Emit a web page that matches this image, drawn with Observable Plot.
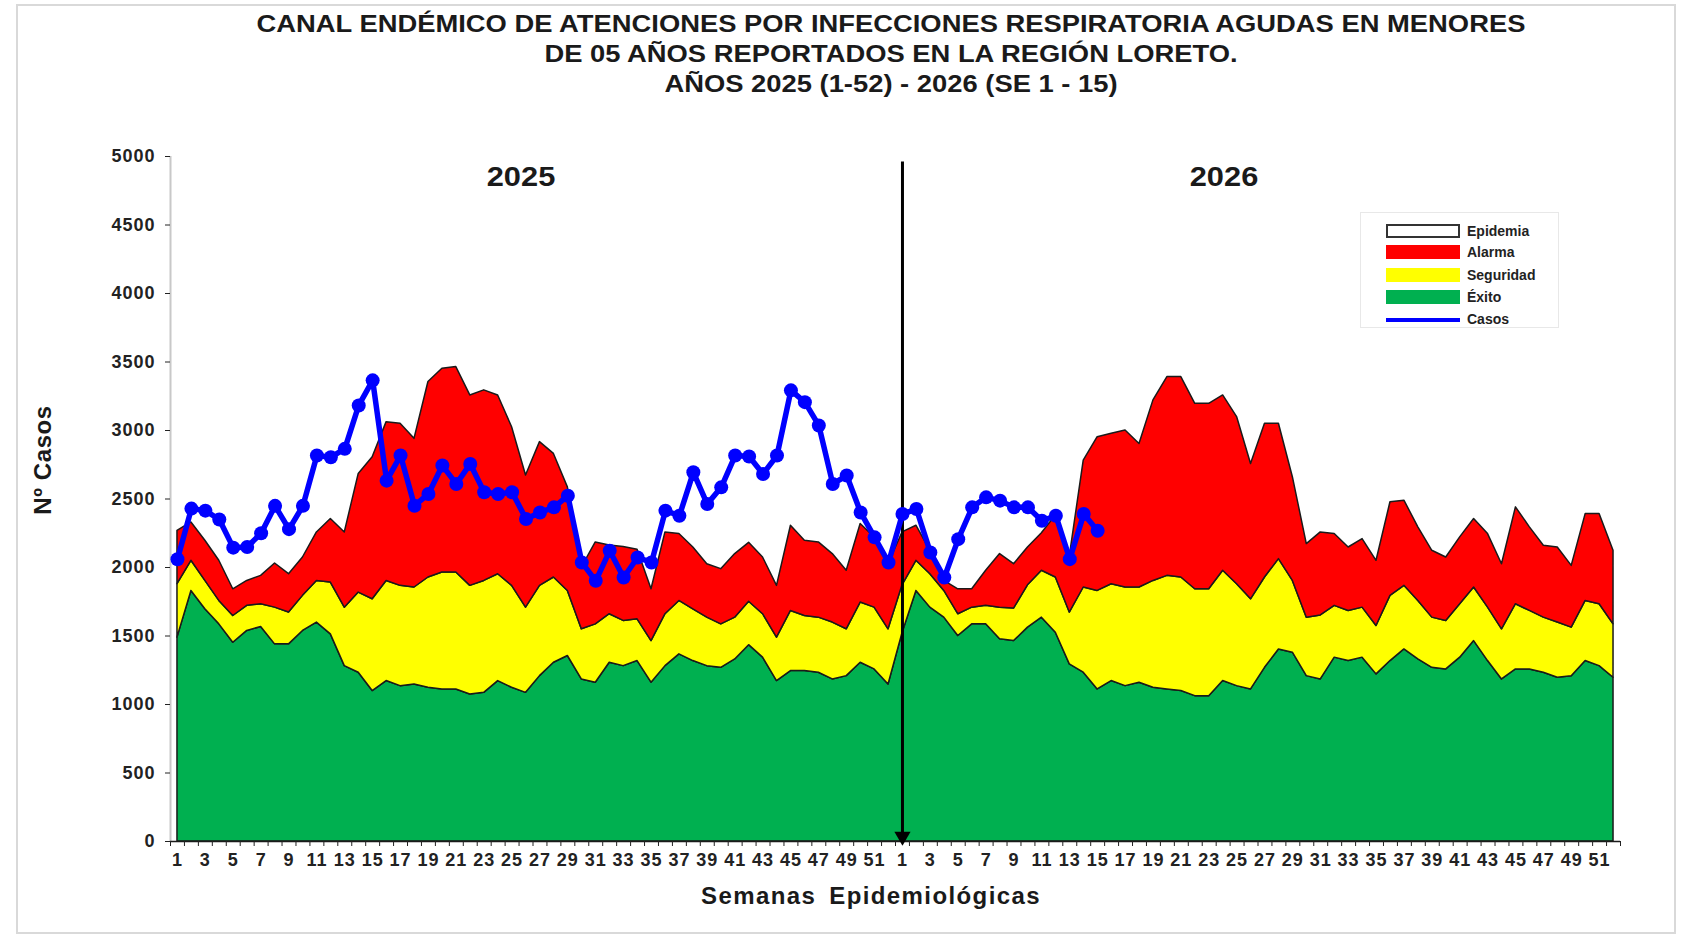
<!DOCTYPE html>
<html>
<head>
<meta charset="utf-8">
<script src="https://cdn.jsdelivr.net/npm/d3@7"></script>
<script src="https://cdn.jsdelivr.net/npm/@observablehq/plot@0.6"></script>
<style>
  body { margin: 0; background: #fff; font-family: "Liberation Sans", Arial, sans-serif; }
  #wrap { position: relative; width: 1686px; height: 937px; overflow: hidden; background: #fff; }
  #frame { position: absolute; left: 16px; top: 4px; width: 1660px; height: 930px; border: 2px solid #d9d9d9; box-sizing: border-box; }
  #chart { position: absolute; left: 0; top: 0; }
  .t { position: absolute; font-weight: bold; color: #1a1a1a; white-space: nowrap; transform: translate(-50%, -50%); }
  .title { font-size: 24px; transform: translate(-50%, -50%) scaleX(1.14); }
  .year { font-size: 28px; transform: translate(-50%, -50%) scaleX(1.1); }
  #ylab { font-size: 24px; transform: translate(-50%, -50%) rotate(-90deg); letter-spacing: 0.6px; }
  #xlab { font-size: 24px; letter-spacing: 1.4px; word-spacing: 5px; }
  #legend { position: absolute; left: 1360px; top: 212px; width: 199px; height: 116px; border: 1px solid #e8e8e8; box-sizing: border-box; background: #fff; }
  .lrow { position: absolute; left: 0; height: 16px; }
  .sw { position: absolute; left: 25px; width: 74px; height: 14px; box-sizing: border-box; }
  .ltxt { position: absolute; left: 106px; font-size: 14px; font-weight: bold; color: #222; line-height: 14px; top: 0; }
  #chart svg text { letter-spacing: 1px; }
</style>
</head>
<body>
<div id="wrap">
  <div id="frame"></div>
  <div id="chart"></div>
  <div class="t title" style="left:891px; top:24px;">CANAL ENDÉMICO DE ATENCIONES POR INFECCIONES RESPIRATORIA AGUDAS EN MENORES</div>
  <div class="t title" style="left:891px; top:54px;">DE 05 AÑOS REPORTADOS EN LA REGIÓN LORETO.</div>
  <div class="t title" style="left:891px; top:84px;">AÑOS 2025 (1-52) - 2026 (SE 1 - 15)</div>
  <div class="t year" style="left:521px; top:177px;">2025</div>
  <div class="t year" style="left:1224px; top:177px;">2026</div>
  <div id="ylab" class="t" style="left:43px; top:460px;">Nº Casos</div>
  <div id="xlab" class="t" style="left:871px; top:896px;">Semanas Epidemiológicas</div>
  <div id="legend"></div>
</div>
<script>
// ---- Data ----
const weeks2025 = d3.range(1, 53);
const weeks2026 = d3.range(1, 53);
const yTicks = [0, 500, 1000, 1500, 2000, 2500, 3000, 3500, 4000, 4500, 5000];

// Upper limit of each zone of the endemic channel
const exito2025 = [1488, 1829, 1695, 1585, 1451, 1537, 1566, 1439, 1439, 1537, 1598, 1512, 1280, 1232, 1098, 1171, 1134, 1146, 1122, 1110,
  1110, 1073, 1085, 1171, 1122, 1085, 1207, 1305, 1354, 1183, 1159, 1305, 1280, 1317, 1159, 1280, 1366, 1317, 1280, 1268,
  1329, 1433, 1342, 1171, 1244, 1244, 1232, 1183, 1207, 1305, 1256, 1146];
const seguridad2025 = [1878, 2049, 1902, 1756, 1646, 1720, 1732, 1707, 1671, 1793, 1902, 1890, 1707, 1817, 1768, 1902, 1866, 1854, 1927, 1963,
  1963, 1866, 1902, 1951, 1866, 1707, 1866, 1927, 1829, 1549, 1585, 1659, 1610, 1622, 1463, 1659, 1756, 1695, 1634, 1585,
  1634, 1750, 1659, 1488, 1683, 1646, 1634, 1598, 1549, 1744, 1707, 1549];
const alarma2025 = [2268, 2329, 2195, 2049, 1841, 1902, 1939, 2029, 1951, 2073, 2256, 2354, 2256, 2683, 2805, 3061, 3049, 2939, 3354, 3451,
  3463, 3256, 3293, 3256, 3024, 2671, 2915, 2829, 2585, 2000, 2183, 2160, 2150, 2130, 1841, 2256, 2244, 2146, 2024, 1988,
  2098, 2180, 2073, 1866, 2305, 2195, 2183, 2098, 1976, 2317, 2220, 2024];

const exito2026 = [1520, 1829, 1707, 1634, 1500, 1585, 1585, 1476, 1463, 1561, 1634, 1524, 1293, 1232, 1110, 1171, 1134, 1159, 1122, 1110,
  1098, 1061, 1061, 1171, 1134, 1110, 1268, 1402, 1378, 1207, 1183, 1342, 1317, 1342, 1220, 1317, 1402, 1329, 1268, 1256,
  1342, 1463, 1317, 1183, 1256, 1256, 1232, 1195, 1207, 1317, 1280, 1195];
const seguridad2026 = [1870, 2049, 1951, 1829, 1659, 1707, 1720, 1707, 1700, 1870, 1976, 1927, 1671, 1854, 1829, 1878, 1854, 1854, 1902, 1939,
  1927, 1841, 1841, 1976, 1878, 1768, 1927, 2061, 1902, 1634, 1650, 1720, 1683, 1707, 1573, 1793, 1866, 1756, 1634, 1610,
  1732, 1854, 1707, 1549, 1732, 1683, 1634, 1598, 1561, 1756, 1732, 1585];
const alarma2026 = [2256, 2305, 2122, 1902, 1841, 1841, 1976, 2098, 2024, 2146, 2250, 2380, 2080, 2780, 2951, 2976, 3000, 2902, 3220, 3390,
  3390, 3195, 3195, 3256, 3098, 2756, 3049, 3049, 2659, 2171, 2256, 2244, 2146, 2207, 2049, 2476, 2488, 2293, 2122, 2073,
  2220, 2354, 2244, 2024, 2439, 2293, 2159, 2146, 2012, 2390, 2390, 2122];

// Cases
const casos2025 = [2060, 2430, 2415, 2350, 2145, 2150, 2250, 2450, 2280, 2450, 2817, 2805, 2866, 3183, 3366, 2634, 2817, 2451, 2537, 2744,
  2610, 2756, 2549, 2537, 2549, 2354, 2402, 2439, 2524, 2037, 1903, 2122, 1927, 2073, 2037, 2415, 2378, 2695, 2463, 2585,
  2817, 2810, 2683, 2817, 3293, 3207, 3037, 2610, 2671, 2402, 2220, 2037];
const casos2026 = [2390, 2427, 2110, 1927, 2207, 2439, 2512, 2488, 2439, 2439, 2341, 2378, 2061, 2390, 2268];

const legendItems = ["Epidemia", "Alarma", "Seguridad", "Éxito", "Casos"];
const colors = { Epidemia: "#FFFFFF", Alarma: "#FF0000", Seguridad: "#FFFF00", "Éxito": "#00B050", Casos: "#0000FF" };

// ---- Tables built from the arrays ----
const rows = [
  ...weeks2025.map((w, i) => ({ idx: i, week: w, exito: exito2025[i], seguridad: seguridad2025[i], alarma: alarma2025[i] })),
  ...weeks2026.map((w, i) => ({ idx: weeks2025.length + i, week: w, exito: exito2026[i], seguridad: seguridad2026[i], alarma: alarma2026[i] }))
];
const casos = [
  ...casos2025.map((v, i) => ({ idx: i, value: v })),
  ...casos2026.map((v, i) => ({ idx: weeks2025.length + i, value: v }))
];
const nWeeks = rows.length;
const weekLabel = rows.map(r => r.week);
const labelIdx = rows.filter(r => r.week % 2 === 1).map(r => r.idx);
const boundaries = d3.range(-0.5, nWeeks, 1);
const split = weeks2025.length;
const outline = "#1a1a1a";

const chart = Plot.plot({
  width: 1686,
  height: 937,
  marginLeft: 170,
  marginRight: 66,
  marginTop: 156,
  marginBottom: 96,
  x: { domain: [-0.5, nWeeks - 0.5] },
  y: { domain: [0, 5000] },
  style: { fontFamily: "'Liberation Sans', Arial, sans-serif", fontWeight: "bold", fontSize: "18px", color: "#222", background: "transparent", overflow: "visible" },
  marks: [
    Plot.areaY(rows, { x: "idx", y1: 0, y2: "exito", fill: colors["Éxito"], stroke: outline, strokeWidth: 1.5 }),
    Plot.areaY(rows, { x: "idx", y1: "exito", y2: "seguridad", fill: colors.Seguridad, stroke: outline, strokeWidth: 1.5 }),
    Plot.areaY(rows, { x: "idx", y1: "seguridad", y2: "alarma", fill: colors.Alarma, stroke: outline, strokeWidth: 1.5 }),
    Plot.ruleX([-0.5], { stroke: "#c8c8c8", strokeWidth: 2 }),
    Plot.ruleY([0], { stroke: outline, strokeWidth: 1.5 }),
    Plot.axisY({ ticks: yTicks, tickSize: 5, tickPadding: 10, tickFormat: d => String(d), label: null }),
    Plot.axisX({ ticks: boundaries, tickSize: 5, tickFormat: () => "", label: null }),
    Plot.axisX({ ticks: labelIdx, tickSize: 0, tickPadding: 12, tickFormat: i => String(weekLabel[i]), label: null }),
    Plot.ruleX([split], { y1: 4960, y2: 0, stroke: "#000", strokeWidth: 3 }),
    Plot.dot([split], { x: d => d, y: 0, symbol: "triangle", rotate: 180, r: 6, dy: -5, fill: "#000", stroke: "none" }),
    Plot.line(casos, { x: "idx", y: "value", stroke: colors.Casos, strokeWidth: 5.5 }),
    Plot.dot(casos, { x: "idx", y: "value", r: 7, fill: colors.Casos })
  ]
});
document.getElementById("chart").appendChild(chart);

// ---- Legend ----
const rowTops = [11, 32, 55, 77, 99];
const legend = document.getElementById("legend");
legendItems.forEach((name, k) => {
  const row = document.createElement("div");
  row.className = "lrow";
  row.style.top = rowTops[k] + "px";
  const sw = document.createElement("div");
  sw.className = "sw";
  if (name === "Epidemia") {
    sw.style.background = "#fff";
    sw.style.border = "2px solid #333";
  } else if (name === "Casos") {
    sw.style.height = "4px";
    sw.style.top = "6px";
    sw.style.background = colors[name];
  } else {
    sw.style.background = colors[name];
  }
  const tx = document.createElement("div");
  tx.className = "ltxt";
  tx.textContent = name;
  row.appendChild(sw);
  row.appendChild(tx);
  legend.appendChild(row);
});
</script>
</body>
</html>
